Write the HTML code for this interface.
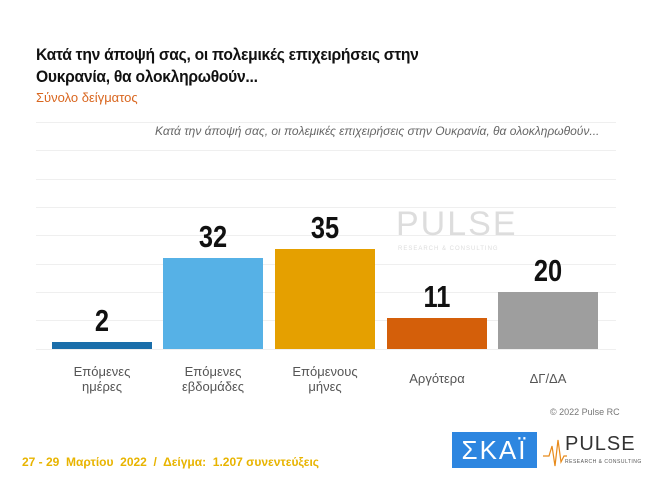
<!DOCTYPE html>
<html><head><meta charset="utf-8"><style>
body{margin:0;background:#fff;}
#c{position:relative;width:650px;height:477px;overflow:hidden;background:#fff;font-family:"Liberation Sans","DejaVu Sans",sans-serif;}
.a{position:absolute;}
.t{left:36px;top:44px;font-size:17px;font-weight:bold;color:#111;line-height:22px;letter-spacing:-0.3px;transform:scaleX(0.92);transform-origin:left;}
.g{left:36px;width:580px;height:1px;background:#efefef;}
.bar{position:absolute;width:100px;}
.n{position:absolute;width:100px;text-align:center;font-size:31px;font-weight:bold;color:#111;transform:scaleX(0.82);}
.l{position:absolute;width:110px;text-align:center;font-size:13px;color:#555;line-height:15px;}
</style></head><body><div id="c">
<div class="a t">Κατά την άποψή σας, οι πολεμικές επιχειρήσεις στην<br>Ουκρανία, θα ολοκληρωθούν...</div>
<div class="a" style="left:36px;top:90px;font-size:13px;color:#d9661f;">Σύνολο δείγματος</div>
<div class="a g" style="top:122px"></div>
<div class="a g" style="top:150px"></div>
<div class="a g" style="top:179px"></div>
<div class="a g" style="top:207px"></div>
<div class="a g" style="top:235px"></div>
<div class="a g" style="top:264px"></div>
<div class="a g" style="top:292px"></div>
<div class="a g" style="top:320px"></div>
<div class="a g" style="top:349px"></div>
<div class="a" style="left:150px;top:123px;width:465px;height:26px;background:#fff;"></div>
<div class="a" style="left:155px;top:124px;font-size:12px;font-style:italic;color:#666;">Κατά την άποψή σας, οι πολεμικές επιχειρήσεις στην Ουκρανία, θα ολοκληρωθούν...</div>
<div class="a" style="left:396px;top:205px;font-size:34px;color:#ddd;letter-spacing:2px;">PULSE</div>
<div class="a" style="left:398px;top:246px;font-size:6px;color:#ddd;letter-spacing:1px;">RESEARCH &amp; CONSULTING</div>
<div class="bar" style="left:52px;top:342px;height:7px;background:#1a6eaa"></div>
<div class="bar" style="left:163px;top:258px;height:91px;background:#56b1e6"></div>
<div class="bar" style="left:275px;top:249px;height:100px;background:#e5a000"></div>
<div class="bar" style="left:387px;top:318px;height:31px;background:#d45f0a"></div>
<div class="bar" style="left:498px;top:292px;height:57px;background:#9e9e9e"></div>
<div class="n" style="left:52px;top:303px">2</div>
<div class="n" style="left:163px;top:219px">32</div>
<div class="n" style="left:275px;top:210px">35</div>
<div class="n" style="left:387px;top:279px">11</div>
<div class="n" style="left:498px;top:253px">20</div>
<div class="l" style="left:47px;top:364px">Επόμενες<br>ημέρες</div>
<div class="l" style="left:158px;top:364px">Επόμενες<br>εβδομάδες</div>
<div class="l" style="left:270px;top:364px">Επόμενους<br>μήνες</div>
<div class="l" style="left:382px;top:371px">Αργότερα</div>
<div class="l" style="left:493px;top:371px">ΔΓ/ΔΑ</div>
<div class="a" style="left:550px;top:407px;font-size:9px;color:#777;">© 2022 Pulse RC</div>
<div class="a" style="left:22px;top:455px;font-size:12px;font-weight:bold;color:#e8b400;">27 - 29&nbsp; Μαρτίου&nbsp; 2022&nbsp; /&nbsp; Δείγμα:&nbsp; 1.207 συνεντεύξεις</div>
<div class="a" style="left:452px;top:432px;width:85px;height:36px;background:#2d86e0;color:#fff;font-size:26px;text-align:center;line-height:36px;letter-spacing:2px;">ΣΚΑΪ</div>
<div class="a" style="left:565px;top:433px;font-size:20px;color:#333;letter-spacing:1px;">PULSE</div>
<div class="a" style="left:565px;top:459px;font-size:5px;color:#555;letter-spacing:0.5px;">RESEARCH &amp; CONSULTING</div>
<svg class="a" style="left:543px;top:436px" width="24" height="34"><polyline points="0,20 6,20 9,10 12,30 15,4 18,26 21,20 24,20" fill="none" stroke="#e88a1a" stroke-width="1.2"/></svg>
</div></body></html>
